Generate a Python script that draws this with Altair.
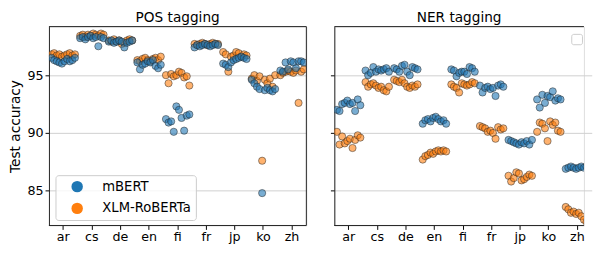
import altair as alt
import pandas as pd

languages = ["ar", "cs", "de", "en", "fi", "fr", "jp", "ko", "zh"]
models = ["mBERT", "XLM-RoBERTa"]
colors = ["#1f77b4", "#ff7f0e"]

# POS tagging, test accuracy per run (read left to right within each language)
pos_mbert = [
    [96.5, 96.3, 96.2, 96.1, 96.0, 96.2, 96.4, 96.2, 96.3, 96.5],
    [98.2, 98.3, 98.1, 98.3, 98.4, 98.2, 98.3, 97.5, 98.3, 98.2],
    [97.9, 98.0, 97.8, 97.9, 98.0, 97.9, 97.4, 97.8, 97.9, 98.0],
    [96.1, 95.5, 95.9, 96.0, 96.2, 96.1, 96.3, 95.8, 95.6, 95.9],
    [91.2, 90.9, 91.0, 90.1, 92.3, 92.0, 91.3, 90.2, 91.5, 91.6],
    [97.4, 97.6, 97.5, 97.6, 97.7, 97.6, 97.5, 97.6, 97.7, 97.6],
    [96.0, 95.9, 95.7, 96.1, 96.3, 96.4, 96.5, 96.6, 96.5, 96.4],
    [94.6, 94.3, 94.0, 93.8, 84.8, 93.7, 93.9, 93.7, 93.6, 93.8],
    [95.4, 95.3, 96.1, 95.5, 96.2, 96.1, 95.6, 96.2, 96.2, 96.1],
]
pos_xlmr = [
    [96.8, 96.9, 96.7, 96.8, 96.6, 96.7, 96.8, 96.9, 96.7, 96.8],
    [98.4, 98.5, 98.3, 98.5, 98.4, 98.6, 98.5, 98.4, 98.6, 98.5],
    [98.0, 97.9, 98.1, 97.9, 98.0, 97.7, 97.8, 98.0, 98.1, 98.0],
    [96.3, 96.2, 96.4, 96.5, 96.3, 96.2, 96.4, 96.5, 96.3, 96.6],
    [95.0, 94.3, 95.1, 94.9, 95.0, 95.3, 95.2, 94.8, 94.9, 94.1],
    [97.7, 97.6, 97.7, 97.8, 97.7, 97.6, 97.7, 97.8, 97.7, 97.7],
    [97.0, 96.8, 95.3, 96.6, 96.7, 97.0, 96.9, 96.6, 96.8, 96.7],
    [94.7, 95.0, 94.5, 94.9, 87.6, 94.6, 94.3, 94.7, 94.0, 95.0],
    [95.0, 95.2, 95.3, 95.4, 95.3, 95.2, 95.4, 92.6, 95.3, 95.5],
]

# NER tagging
ner_mbert = [
    [92.0, 91.9, 92.5, 92.6, 92.8, 92.5, 92.6, 91.9, 92.9, 92.4],
    [95.4, 95.0, 95.2, 95.7, 95.3, 95.5, 95.4, 95.5, 95.6, 95.3],
    [95.6, 95.5, 95.3, 95.8, 95.9, 95.3, 95.0, 95.7, 95.6, 95.5],
    [90.8, 91.1, 91.2, 91.0, 91.3, 91.4, 91.2, 91.0, 91.1, 90.8],
    [95.5, 95.4, 94.9, 95.2, 95.3, 95.3, 95.1, 95.7, 95.6, 95.3],
    [94.1, 93.5, 93.9, 94.0, 93.8, 93.9, 93.2, 94.1, 94.2, 94.0],
    [89.4, 89.3, 89.2, 89.1, 89.0, 89.2, 89.1, 89.3, 89.0, 89.4],
    [92.9, 92.2, 93.3, 92.6, 93.2, 93.1, 93.6, 92.8, 93.0, 92.9],
    [86.9, 87.0, 87.1, 87.0, 86.9, 87.0, 87.1, 87.0, 87.1, 87.0],
]
ner_xlmr = [
    [90.1, 89.0, 89.7, 89.1, 89.3, 89.5, 88.7, 89.4, 89.8, 89.6],
    [94.4, 94.0, 94.2, 94.3, 94.1, 93.9, 94.0, 93.7, 93.6, 94.0],
    [94.6, 94.5, 94.4, 94.6, 94.3, 94.0, 93.9, 94.1, 94.0, 94.2],
    [87.7, 88.0, 88.1, 88.3, 88.2, 88.4, 88.5, 88.4, 88.5, 88.4],
    [94.2, 94.0, 93.9, 93.5, 94.3, 94.2, 94.1, 94.2, 94.4, 94.3],
    [90.6, 90.5, 90.4, 90.1, 90.2, 90.0, 89.5, 90.5, 90.3, 90.4],
    [86.3, 85.8, 86.1, 86.6, 86.5, 85.9, 86.0, 86.2, 86.4, 86.3],
    [90.1, 90.9, 90.8, 90.4, 89.3, 91.0, 90.7, 90.9, 90.2, 90.1],
    [83.6, 83.4, 83.1, 83.2, 83.0, 83.1, 82.8, 82.5, 82.3, 82.4],
]

y_ticks = [85, 90, 95]
y_domain = [82.0, 99.2]

rows = []
for task, series in [("POS tagging", {"mBERT": pos_mbert, "XLM-RoBERTa": pos_xlmr}),
                     ("NER tagging", {"mBERT": ner_mbert, "XLM-RoBERTa": ner_xlmr})]:
    for model in ["XLM-RoBERTa", "mBERT"]:
        for lang, vals in zip(languages, series[model]):
            for run, v in enumerate(vals):
                rows.append({"task": task, "model": model, "lang": lang, "run": run, "acc": v})
df = pd.DataFrame(rows)

FONT = "DejaVu Sans"
W, H = 264, 204
W_RIGHT = 256
FRAME = "#222"
GRID = "#cfcfcf"
one = pd.DataFrame({"a": [0]})


def panel(task, first):
    base = alt.Chart(df[df["task"] == task])
    pw = W if first else W_RIGHT
    if first:
        legend = alt.Legend(
            title=None, orient="none", legendX=6.7, legendY=H - 51.6,
            fillColor="rgba(255,255,255,0.8)", strokeColor="#cccccc", cornerRadius=3,
            padding=5, symbolSize=137, symbolOpacity=1, symbolStrokeWidth=0,
            symbolType="circle", symbolOffset=10.5, labelOffset=19,
            labelFont=FONT, labelFontSize=13.5, labelColor="#000", rowPadding=7.3,
        )
        yaxis = alt.Axis(values=y_ticks, title="Test accuracy", titleFont=FONT,
                         titleFontSize=14, titleFontWeight="normal", titleColor="#000",
                         titlePadding=4.8, labelFont=FONT, labelFontSize=13,
                         labelColor="#000", labelPadding=2, tickSize=4,
                         tickColor="#000", domain=True, domainColor=FRAME,
                         gridColor=GRID)
    else:
        legend = None
        yaxis = alt.Axis(values=y_ticks, title=None, labels=False, tickSize=4,
                         tickColor="#000", domain=True, domainColor=FRAME,
                         gridColor=GRID)
    pts = base.mark_circle(size=55, fillOpacity=0.6, stroke="#222", strokeWidth=0.7,
                           strokeOpacity=0.7, clip=True).encode(
        x=alt.X("lang:N", sort=languages,
                scale=alt.Scale(paddingInner=0, paddingOuter=0, range=[0, W]),
                axis=alt.Axis(title=None, labelAngle=0, labelFont=FONT, labelFontSize=13,
                              labelColor="#000", tickSize=4, tickColor="#000",
                              domain=False, gridColor=GRID, labelPadding=1,
                              labelBound=False, labelOverlap=False)),
        xOffset=alt.XOffset("run:Q", scale=alt.Scale(domain=[-1, 10])),
        y=alt.Y("acc:Q", scale=alt.Scale(domain=y_domain, nice=False, zero=False),
                axis=yaxis),
        fill=alt.Fill("model:N", scale=alt.Scale(domain=models, range=colors),
                      legend=legend),
    )
    top = alt.Chart(one).mark_rule(color=FRAME, strokeWidth=1).encode(
        x=alt.value(0), x2=alt.value(pw), y=alt.value(0))
    bottom = alt.Chart(one).mark_rule(color=FRAME, strokeWidth=1).encode(
        x=alt.value(0), x2=alt.value(pw), y=alt.value(H))
    layers = [pts, top, bottom]
    if first:
        right = alt.Chart(one).mark_rule(color=FRAME, strokeWidth=1).encode(
            x=alt.value(W), y=alt.value(0), y2=alt.value(H))
        layers.append(right)
    else:
        box = alt.Chart(one).mark_rect(
            fill="white", stroke="#cccccc", strokeWidth=1, cornerRadius=2
        ).encode(x=alt.value(243.5), x2=alt.value(254.5), y=alt.value(8), y2=alt.value(18.6))
        layers.append(box)
    return alt.layer(*layers).properties(
        width=pw, height=H,
        title=alt.Title(task, font=FONT, fontSize=14, fontWeight="normal", color="#000", offset=1),
    )


chart = alt.hconcat(panel("POS tagging", True), panel("NER tagging", False), spacing=22.7)
chart = chart.resolve_legend(fill="independent").configure_view(
    stroke=None
).properties(padding={"left": 0, "top": 0, "right": 0, "bottom": 0}).configure(background="white")

chart.save("out.html", embed_options={"renderer": "svg", "actions": False})
